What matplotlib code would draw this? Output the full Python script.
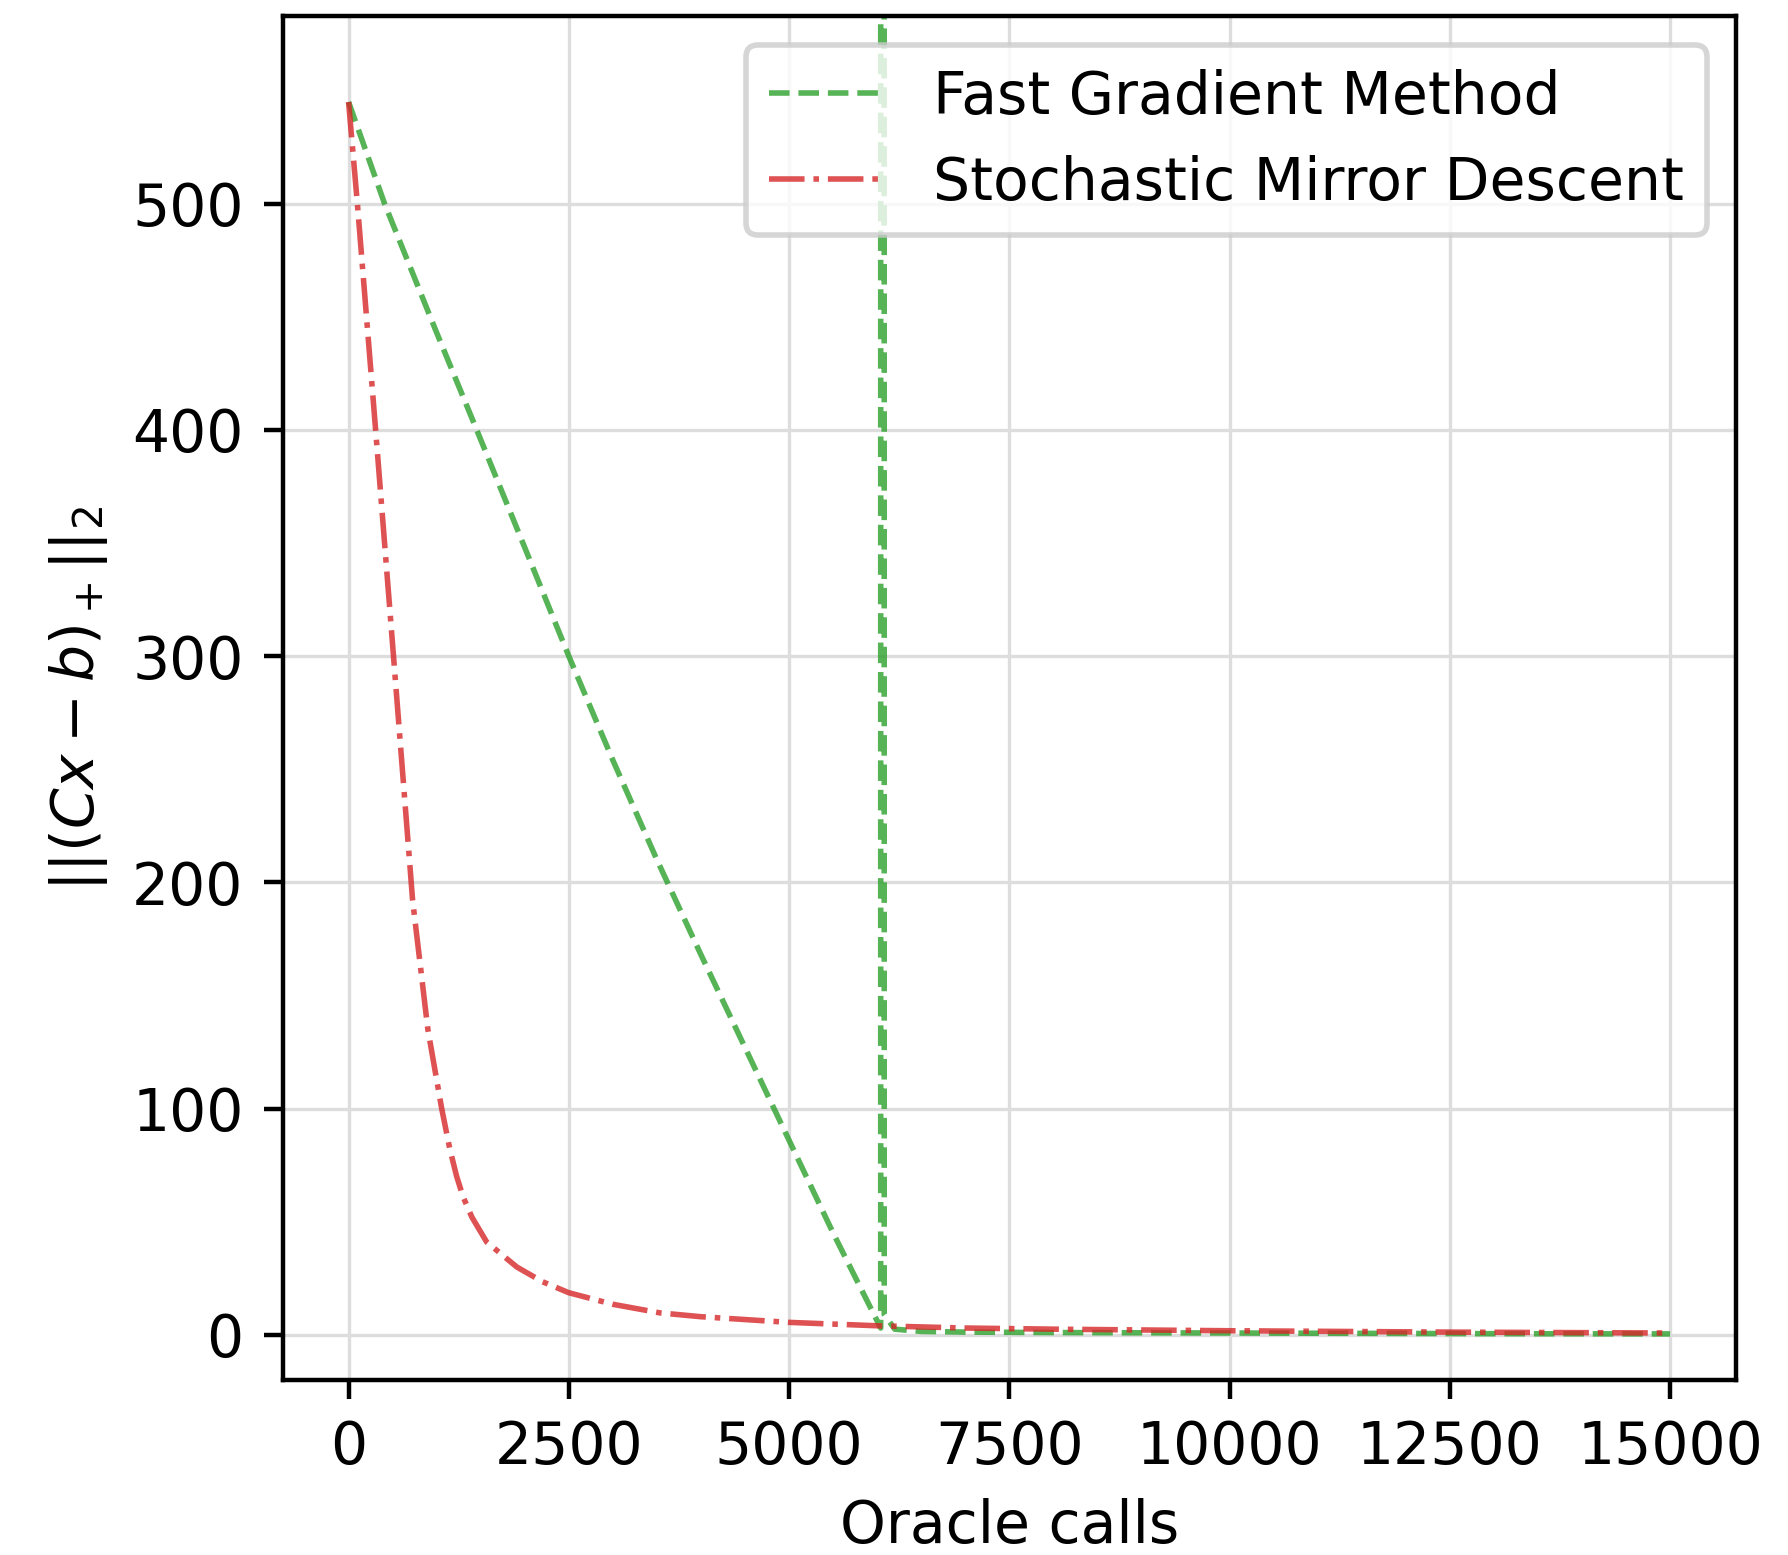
import matplotlib.pyplot as plt

plt.rcParams['font.size'] = 10.5

# Fast Gradient Method (oracle calls vs constraint violation)
fgm_calls = [0, 409, 1000, 1455, 2000, 2500, 3000, 3500, 4000, 4500, 5000, 5500, 6040,
             6042, 6080, 6200, 6500, 7000, 8000, 9000, 10000, 11000, 12000, 13000, 14000, 15000]
fgm_vals = [545, 500, 443, 400, 348, 300, 254, 210, 168, 127, 86, 45, 3,
            100000, 9, 2.5, 1.5, 1.2, 1.0, 0.9, 0.8, 0.7, 0.6, 0.5, 0.45, 0.4]

# Stochastic Mirror Descent
smd_calls = [0, 100, 307, 510, 727, 900, 1057, 1150, 1227, 1300, 1400, 1568, 1909, 2200, 2500,
             3000, 3534, 4000, 5000, 6000, 7000, 8000, 10000, 12500, 15000]
smd_vals = [545, 500, 400, 300, 192, 135, 100, 82, 70, 61, 52, 41, 30, 23.5, 18.6,
            13.5, 9.7, 8, 5.5, 4, 3, 2.5, 1.8, 1.2, 0.8]

fig = plt.figure(figsize=(4.47, 3.8875), dpi=400)
ax = fig.add_axes([0.158, 0.1125, 0.813, 0.8772])

ax.plot(fgm_calls, fgm_vals, '--', color='tab:green', alpha=0.8, lw=1, label='Fast Gradient Method')
ax.plot(smd_calls, smd_vals, '-.', color='tab:red', alpha=0.8, lw=1, label='Stochastic Mirror Descent')

ax.set_xlim(-750, 15750)
ax.set_ylim(-20, 583)
ax.set_xticks([0, 2500, 5000, 7500, 10000, 12500, 15000])
ax.set_yticks([0, 100, 200, 300, 400, 500])
ax.grid(True, color='#dddddd', lw=0.6)
ax.set_axisbelow(True)
ax.set_xlabel('Oracle calls')
ax.set_ylabel(r'$||(Cx-b)_+||_2$')
ax.legend(loc='upper right')

fig.savefig('out.png', dpi=400)
